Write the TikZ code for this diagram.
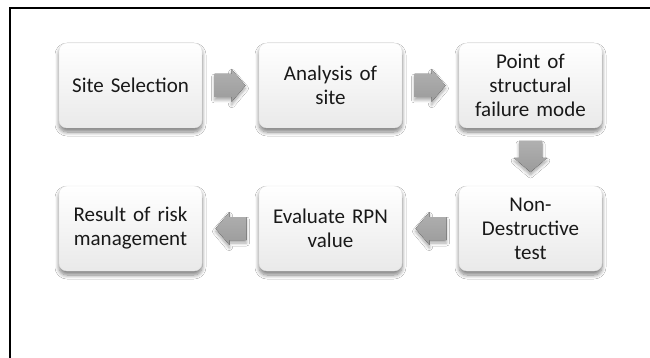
\documentclass[tikz,border=0pt]{standalone}
\usepackage{fontspec}
\setmainfont{Carlito}
\usetikzlibrary{calc,shadows.blur}

% filled block arrow centred at #1, turned by #2 degrees (0 points right)
\newcommand\blockarrow[2]{%
  \fill[flowarrow, shift={#1}, rotate=#2]
    (-16,-11.5) -- (1,-11.5) -- (1,-16.5) -- (15,0) -- (1,16.5) -- (1,11.5)
    -- (-16,11.5) -- cycle;}

\begin{document}
\begin{tikzpicture}[x=1pt,y=-1pt,
  stepbox/.style={rounded corners=8pt, minimum width=143pt, minimum height=85pt,
    top color=white, bottom color=gray!17, draw=gray!22, line width=0.4pt,
    align=center, text width=135pt, inner sep=0pt, text=black!90,
    font=\fontsize{21}{24}\selectfont,
    blur shadow={shadow xshift=0pt, shadow yshift=-4pt, shadow blur steps=8,
      shadow blur radius=4pt, shadow opacity=50}},
  flowarrow/.style={top color=gray!62, bottom color=gray!78,
    blur shadow={shadow xshift=0pt, shadow yshift=-3pt, shadow blur steps=6,
      shadow blur radius=3pt, shadow opacity=35}}
]
\useasboundingbox (0,0) rectangle (650,358);
\fill[white] (0,0) rectangle (650,358);

% page frame
\draw[line width=2pt] (9.5,358) -- (9.5,8.5) -- (650,8.5);

% process steps
\node[stepbox] (site)   at (130.5,85.5)  {Site Selection};
\node[stepbox] (anal)   at (330.5,85.5)  {Analysis of\\site};
\node[stepbox] (point)  at (530.5,85.5)  {Point of\\structural\\failure mode};
\node[stepbox] (ndt)    at (530.5,228.5) {Non-\\Destructive\\test};
\node[stepbox] (rpn)    at (330.5,228.5) {Evaluate RPN\\value};
\node[stepbox] (result) at (130.5,228.5) {Result of risk\\management};

% block arrows half-way between the steps
\coordinate (m1) at ($(site.east)!0.5!(anal.west)$);
\coordinate (m2) at ($(anal.east)!0.5!(point.west)$);
\coordinate (m3) at ($(point.south)!0.5!(ndt.north)$);
\coordinate (m4) at ($(ndt.west)!0.5!(rpn.east)$);
\coordinate (m5) at ($(rpn.west)!0.5!(result.east)$);
\blockarrow{(m1)}{0}
\blockarrow{(m2)}{0}
\blockarrow{(m3)}{-90}
\blockarrow{(m4)}{180}
\blockarrow{(m5)}{180}
\end{tikzpicture}
\end{document}
